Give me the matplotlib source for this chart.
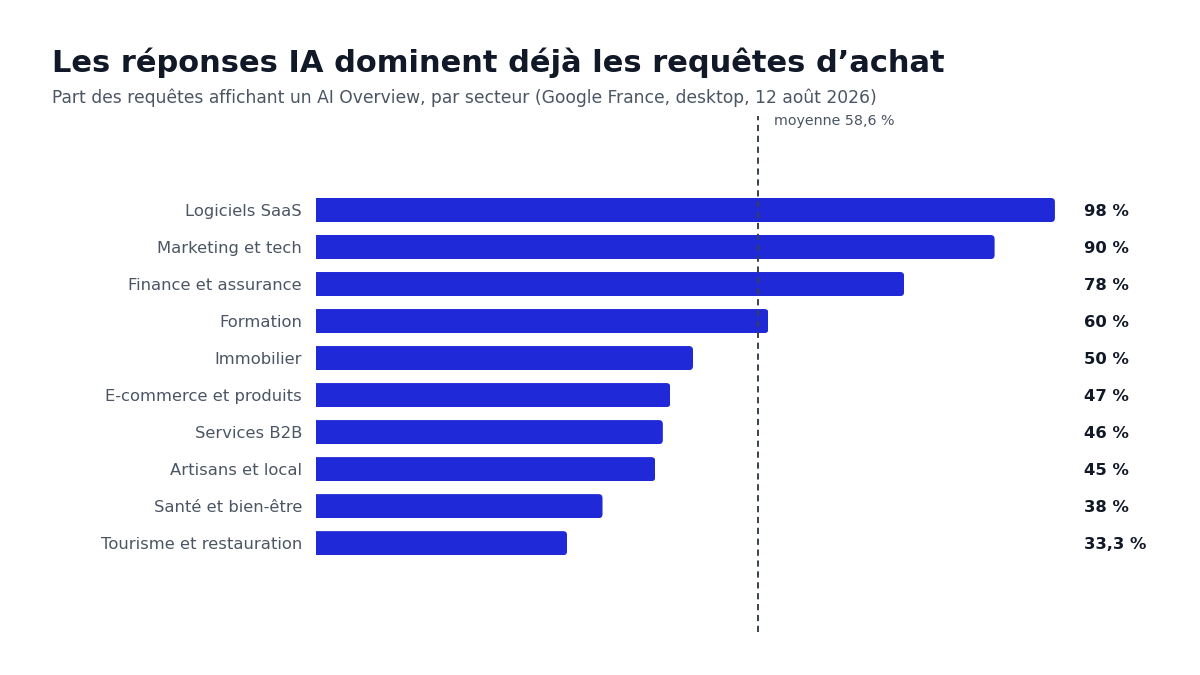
import matplotlib
matplotlib.use("Agg")
import matplotlib.pyplot as plt
from matplotlib.patches import FancyBboxPatch
import matplotlib.transforms as mtransforms

categories = ["Logiciels SaaS", "Marketing et tech", "Finance et assurance", "Formation",
              "Immobilier", "E-commerce et produits", "Services B2B", "Artisans et local",
              "Santé et bien-être", "Tourisme et restauration"]
values = [98, 90, 78, 60, 50, 47, 46, 45, 38, 33.3]
value_labels = ["98 %", "90 %", "78 %", "60 %", "50 %", "47 %", "46 %", "45 %", "38 %", "33,3 %"]
mean_value = 58.6
mean_label = "moyenne 58,6 %"

title = "Les réponses IA dominent déjà les requêtes d’achat"
subtitle = "Part des requêtes affichant un AI Overview, par secteur (Google France, desktop, 12 août 2026)"

BAR = "#1f29d7"
DARK = "#111827"
GREY = "#4b5563"

plt.rcParams['font.family'] = ['DejaVu Sans']
fig = plt.figure(figsize=(12, 6.75), dpi=100)
fig.patch.set_facecolor("white")
ax_w_px, ax_h_px = 754, 632 - 116
ax = fig.add_axes([316/1200, 1-632/675, ax_w_px/1200, ax_h_px/675])

ypos = list(range(len(categories)))
h = 0.65
xmin, xmax = 0, 100
ytop, ybot = -2.54, 11.4
ax.set_xlim(xmin, xmax)
ax.set_ylim(ybot, ytop)

bars = ax.barh(ypos, values, height=h, color=BAR, zorder=2, linewidth=0)

# rounded right corners via clipping
x_per_px = (xmax - xmin) / ax_w_px
y_per_px = (ybot - ytop) / ax_h_px
r = 4 * x_per_px
aspect = y_per_px / x_per_px
for b, v, y in zip(bars, values, ypos):
    clip = FancyBboxPatch((-5, y - h/2), v + 5, h,
                          boxstyle=f"round,pad=0,rounding_size={r}",
                          mutation_aspect=aspect, transform=ax.transData,
                          facecolor="none", edgecolor="none")
    ax.add_patch(clip)
    clip.set_visible(False)
    b.set_clip_path(clip)

ax.set_yticks(ypos)
ax.set_yticklabels(categories, fontsize=11.8, color=GREY)
ax.tick_params(axis='y', length=0, pad=10)
ax.set_xticks([])
for s in ax.spines.values():
    s.set_visible(False)

ax.axvline(mean_value, color="#374151", lw=1.4, ls=(0, (3.2, 2.4)), zorder=3)
ax.annotate(mean_label, xy=(mean_value, ytop), xytext=(11.5, -3.5), textcoords="offset points",
            ha="left", va="center", fontsize=10.3, color=GREY)

trans = mtransforms.blended_transform_factory(ax.transAxes, ax.transData)
for y, lab in zip(ypos, value_labels):
    ax.text(1.0186, y + 0.03, lab, transform=trans, ha="left", va="center",
            fontsize=11.8, fontweight="bold", color=DARK)

fig.text(52/1200, 1-63/675, title, fontsize=22, fontweight="bold", color=DARK, va="center", ha="left")
fig.text(52/1200, 1-98/675, subtitle, fontsize=12.3, color=GREY, va="center", ha="left")

fig.savefig("out.png", dpi=100, facecolor="white")
